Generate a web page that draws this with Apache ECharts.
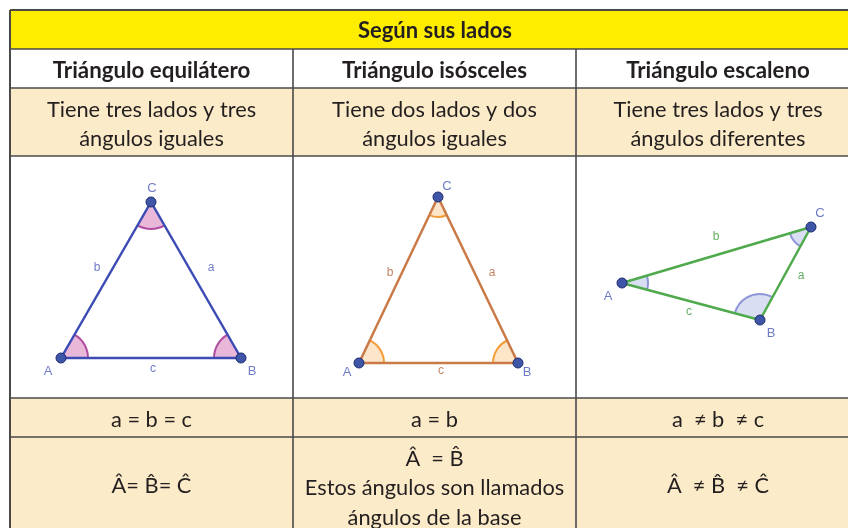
<!DOCTYPE html>
<html><head><meta charset="utf-8">
<script src="https://cdn.jsdelivr.net/npm/echarts@6/dist/echarts.min.js"></script>
<style>html,body{margin:0;padding:0;background:#fff}#chart{width:848px;height:528px}</style>
</head><body><div id="chart"></div>
<script>
// ---------- texts ----------
const titleText = 'Según sus lados';
const typeNames = ['Triángulo equilátero', 'Triángulo isósceles', 'Triángulo escaleno'];
const descriptions = [
  'Tiene tres lados y tres\nángulos iguales',
  'Tiene dos lados y dos\nángulos iguales',
  'Tiene tres lados y tres\nángulos diferentes'
];
const sideRelations = ['a = b = c', 'a = b', 'a  \u2260 b  \u2260 c'];
const angleRelations = [
  '\u00C2= B\u0302= \u0108',
  '\u00C2  = B\u0302\nEstos ángulos son llamados\nángulos de la base',
  '\u00C2  \u2260 B\u0302  \u2260 \u0108'
];
const vertexNames = ['A', 'B', 'C'];
const sideNames = ['a', 'b', 'c'];

// ---------- triangle data (x right, y down), order A, B, C ----------
const equilateralVertices = [[61, 358], [241, 358], [151, 202]];
const isoscelesVertices = [[359, 363], [518, 363], [438, 197]];
const scaleneVertices = [[622, 283], [760, 320], [811, 227]];
// label anchors: vertices A,B,C and sides a,b,c
const equilateralVertexLabels = [[48, 371], [252, 371], [152, 188]];
const equilateralSideLabels = [[211, 268], [97, 268], [153, 369]];
const isoscelesVertexLabels = [[347, 372], [527, 372], [447, 186]];
const isoscelesSideLabels = [[492, 273], [390, 273], [441, 371]];
const scaleneVertexLabels = [[608, 296], [771, 333], [820, 213]];
const scaleneSideLabels = [[801, 276], [716, 237], [689, 312]];

// ---------- layout & style ----------
const W = 848, H = 528;
const colX = [10, 293, 576, 860];
const rowY = [10, 49, 88, 156, 398, 437, 560];
const rowFill = ['#ffed00', '#ffffff', '#fcebc8', '#ffffff', '#fcebc8', '#fcebc8'];
const borderColor = '#4a4a4a';
const textColor = '#231f20';
const FONT = 'Lato, "Open Sans", sans-serif';
const triStyles = [
  { line: '#3c4cb4', side: '#4a5ab8', fill: 'rgba(226,160,204,0.75)', arc: '#b04ca0', radius: [27, 27, 27] },
  { line: '#c97a47', side: '#b4643a', fill: 'rgba(252,222,188,0.8)', arc: '#f39c38', radius: [25, 25, 20] },
  { line: '#4eaa4c', side: '#3d9a3b', fill: 'rgba(212,216,240,0.85)', arc: '#8e96d8', radius: [26, 26, 22] }
];
const vertexLabelColor = '#4a5ab8';

// ---------- table graphics ----------
const g = [];
for (let r = 0; r < rowFill.length; r++) {
  g.push({ type: 'rect', z: 0, silent: true,
    shape: { x: colX[0], y: rowY[r], width: colX[3] - colX[0], height: rowY[r + 1] - rowY[r] },
    style: { fill: rowFill[r] } });
}
for (let r = 0; r < rowY.length - 1; r++) {
  g.push({ type: 'line', z: 1, silent: true,
    shape: { x1: colX[0], y1: rowY[r], x2: colX[3], y2: rowY[r] },
    style: { stroke: borderColor, lineWidth: r === 0 ? 2 : 1.6 } });
}
g.push({ type: 'line', z: 1, silent: true, shape: { x1: colX[0], y1: rowY[0], x2: colX[0], y2: H + 10 }, style: { stroke: borderColor, lineWidth: 2 } });
for (let c = 1; c < 3; c++) {
  g.push({ type: 'line', z: 1, silent: true, shape: { x1: colX[c], y1: rowY[1], x2: colX[c], y2: H + 10 }, style: { stroke: borderColor, lineWidth: 1.6 } });
}
function addText(text, cx, cy, bold, size, lh) {
  g.push({ type: 'text', z: 2, silent: true, x: cx, y: cy,
    style: { text: text, fill: textColor, font: (bold ? 'bold ' : '') + size + 'px ' + FONT,
      align: 'center', verticalAlign: 'middle', lineHeight: lh || 29 } });
}
addText(titleText, (colX[0] + colX[3]) / 2, 31, true, 22);
for (let c = 0; c < 3; c++) {
  const cx = (colX[c] + colX[c + 1]) / 2;
  addText(typeNames[c], cx, 71, true, 22.3);
  addText(descriptions[c], cx, 124.5, false, 21.8, 29);
  addText(sideRelations[c], cx, 420, false, 21.8);
  addText(angleRelations[c], cx, c === 1 ? 488 : 486, false, 21.8, 29.5);
}

// ---------- series ----------
function angleRenderer(st) {
  return function (params, api) {
    const v = api.coord([api.value(0), api.value(1)]);
    const p = api.coord([api.value(2), api.value(3)]);
    const q = api.coord([api.value(4), api.value(5)]);
    const a1 = Math.atan2(p[1] - v[1], p[0] - v[0]);
    const a2 = Math.atan2(q[1] - v[1], q[0] - v[0]);
    let d = a2 - a1;
    while (d > Math.PI) d -= 2 * Math.PI;
    while (d <= -Math.PI) d += 2 * Math.PI;
    const s = d >= 0 ? a1 : a2;
    const e = s + Math.abs(d);
    const r = st.radius[params.dataIndex];
    return { type: 'group', children: [
      { type: 'sector', shape: { cx: v[0], cy: v[1], r0: 0, r: r, startAngle: s, endAngle: e, clockwise: true }, style: { fill: st.fill } },
      { type: 'arc', shape: { cx: v[0], cy: v[1], r: r, startAngle: s, endAngle: e, clockwise: true }, style: { fill: null, stroke: st.arc, lineWidth: 2 } }
    ] };
  };
}
const triangles = [
  [equilateralVertices, equilateralVertexLabels, equilateralSideLabels],
  [isoscelesVertices, isoscelesVertexLabels, isoscelesSideLabels],
  [scaleneVertices, scaleneVertexLabels, scaleneSideLabels]
];
const series = [];
triangles.forEach(function (t, k) {
  const V = t[0], st = triStyles[k];
  series.push({ type: 'custom', silent: true, z: 2,
    renderItem: angleRenderer(st),
    encode: { x: [0, 2, 4], y: [1, 3, 5] },
    data: V.map(function (v, i) { const p = V[(i + 1) % 3], q = V[(i + 2) % 3]; return [v[0], v[1], p[0], p[1], q[0], q[1]]; }) });
  series.push({ type: 'line', silent: true, z: 3, symbol: 'none', animation: false,
    lineStyle: { color: st.line, width: 2.5 },
    data: [V[0], V[1], V[2], V[0]] });
  series.push({ type: 'scatter', silent: true, z: 4, symbolSize: 10,
    itemStyle: { color: '#3f56a8', borderColor: '#1e2c6c', borderWidth: 1, opacity: 1 },
    data: V });
  series.push({ type: 'scatter', silent: true, z: 5, symbolSize: 1,
    itemStyle: { color: 'rgba(0,0,0,0)' },
    label: { show: true, position: 'inside', formatter: '{b}', color: vertexLabelColor, fontSize: 13, fontFamily: '"Liberation Sans", Arial, sans-serif' },
    data: t[1].map(function (p, i) { return { name: vertexNames[i], value: p }; }) });
  series.push({ type: 'scatter', silent: true, z: 5, symbolSize: 1,
    itemStyle: { color: 'rgba(0,0,0,0)' },
    label: { show: true, position: 'inside', formatter: '{b}', color: st.side, fontSize: 12, fontFamily: '"Liberation Sans", Arial, sans-serif' },
    data: t[2].map(function (p, i) { return { name: sideNames[i], value: p }; }) });
});

const chart = echarts.init(document.getElementById('chart'), null, { renderer: 'canvas' });
chart.setOption({
  animation: false,
  backgroundColor: '#ffffff',
  grid: { left: 0, top: 0, width: W, height: H, containLabel: false },
  xAxis: { type: 'value', min: 0, max: W, show: false },
  yAxis: { type: 'value', min: 0, max: H, inverse: true, show: false },
  graphic: { elements: g },
  series: series
});
</script></body></html>
